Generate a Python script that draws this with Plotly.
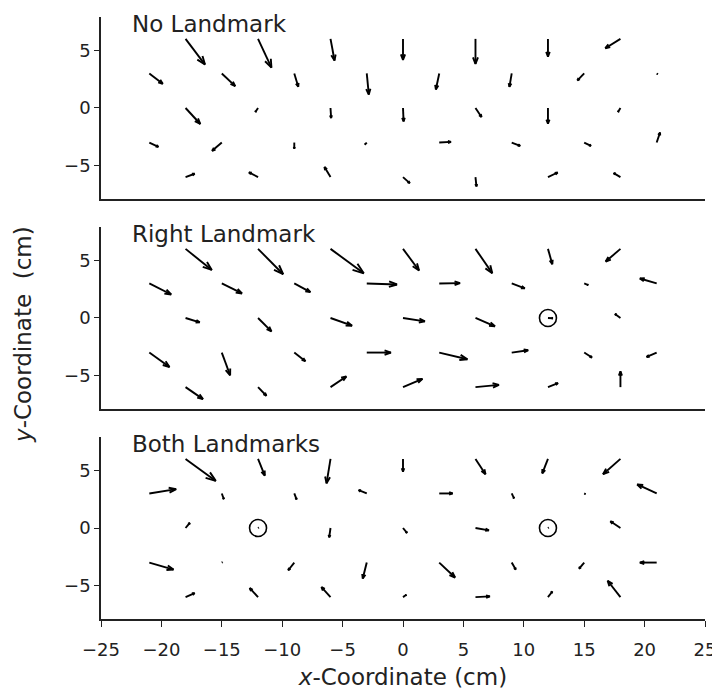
import math
import plotly.graph_objects as go
import plotly.figure_factory as ff
from plotly.subplots import make_subplots

# sampling grid (cm): rows at y = 6, 3, 0, -3, -6, alternate rows shifted by 3 cm
grid_x = [-18, -12, -6, 0, 6, 12, 18,
          -21, -15, -9, -3, 3, 9, 15, 21,
          -18, -12, -6, 0, 6, 12, 18,
          -21, -15, -9, -3, 3, 9, 15, 21,
          -18, -12, -6, 0, 6, 12, 18]
grid_y = [6, 6, 6, 6, 6, 6, 6,
          3, 3, 3, 3, 3, 3, 3, 3,
          0, 0, 0, 0, 0, 0, 0,
          -3, -3, -3, -3, -3, -3, -3, -3,
          -6, -6, -6, -6, -6, -6, -6]

# No Landmark
u_none = [1.61, 1.11, 0.33, 0.0, 0.0, 0.0, -1.25,
          1.11, 1.11, 0.33, 0.17, -0.28, -0.19, -0.56, 0.08,
          1.22, -0.22, 0.05, 0.05, 0.5, 0.0, -0.2,
          0.75, -0.8, 0.0, -0.15, 0.97, 0.7, 0.56, 0.28,
          0.75, -0.75, -0.5, 0.56, 0.08, 0.8, -0.56]
v_none = [-2.23, -2.49, -1.88, -1.83, -2.17, -1.54, -0.81,
          -0.9, -1.1, -1.16, -1.83, -1.39, -1.16, -0.61, -0.06,
          -1.39, -0.35, -0.87, -1.16, -0.78, -1.36, -0.35,
          -0.38, -0.72, -0.52, -0.17, 0.06, -0.29, -0.29, 0.87,
          0.29, 0.41, 0.87, -0.52, -0.81, 0.4, 0.35]

# Right Landmark
u_right = [2.17, 2.08, 2.75, 1.33, 1.39, 0.36, -1.22,
           1.81, 1.67, 1.33, 2.5, 1.72, 1.08, 0.33, -1.39,
           1.17, 1.11, 1.78, 1.81, 1.61, 0.4, -0.45,
           1.67, 0.69, 0.92, 2.0, 2.33, 1.36, 0.64, -0.83,
           1.44, 0.69, 1.31, 1.61, 1.94, 0.83, 0.0]
v_right = [-1.83, -2.2, -2.12, -1.88, -2.12, -1.33, -1.1,
           -0.96, -0.87, -0.75, -0.09, 0.03, -0.43, -0.14, 0.43,
           -0.38, -1.16, -0.67, -0.29, -0.72, -0.02, 0.35,
           -1.25, -1.97, -0.75, 0.0, -0.58, 0.2, -0.43, -0.38,
           -1.04, -0.75, 0.93, 0.72, 0.2, 0.35, 1.36]

# Both Landmarks
u_both = [2.5, 0.56, -0.33, 0.0, 0.83, -0.47, -1.44,
          2.22, 0.17, 0.19, -0.67, 1.11, 0.19, 0.1, -1.61,
          0.35, 0.05, -0.11, 0.33, 1.11, 0.05, -0.83,
          2.0, 0.05, -0.5, -0.33, 1.31, 0.33, -0.42, -1.39,
          0.75, -0.69, -0.75, 0.28, 1.19, 0.36, -1.06]
v_both = [-1.91, -1.45, -2.12, -1.1, -1.33, -1.25, -1.33,
          0.38, -0.49, -0.52, 0.29, 0.0, -0.43, -0.05, 0.78,
          0.45, 0.03, -0.81, -0.43, -0.2, 0.03, 0.58,
          -0.61, 0.03, -0.67, -1.39, -1.3, -0.61, -0.52, 0.0,
          0.35, 0.78, 0.87, 0.2, 0.06, 0.49, 1.42]

panel_titles = ["No Landmark", "Right Landmark", "Both Landmarks"]
landmarks_x = [[], [12], [-12, 12]]
landmarks_y = [[], [0], [0, 0]]
fields = [(u_none, v_none), (u_right, v_right), (u_both, v_both)]

FONT = "DejaVu Sans"
INK = "#222222"

fig = make_subplots(rows=3, cols=1, shared_xaxes=True)

for i, (u, v) in enumerate(fields):
    q = ff.create_quiver(grid_x, grid_y, u, v, scale=1, arrow_scale=0.28,
                         angle=math.pi / 9,
                         line=dict(color="black", width=1.9))
    for tr in q.data:
        tr.showlegend = False
        tr.hoverinfo = "skip"
        fig.add_trace(tr, row=i + 1, col=1)
    if landmarks_x[i]:
        fig.add_trace(go.Scatter(x=landmarks_x[i], y=landmarks_y[i], mode="markers",
                                 marker=dict(symbol="circle-open", size=17,
                                             color="black", line=dict(width=1.6)),
                                 showlegend=False),
                      row=i + 1, col=1)

domains = [[0.6977, 1.0], [0.3488, 0.6512], [0.0, 0.3023]]
for i in range(3):
    n = "" if i == 0 else str(i + 1)
    fig.layout["yaxis" + n].update(
        domain=domains[i], range=[-7.9, 7.9], tickvals=[-5, 0, 5],
        ticks="outside", ticklen=5, tickcolor=INK, showline=True,
        linecolor=INK, linewidth=1.5, showgrid=False, zeroline=False,
        automargin=False, tickfont=dict(family=FONT, size=18, color=INK))
    fig.layout["xaxis" + n].update(
        range=[-25, 25], showline=True, linecolor=INK, linewidth=1.5,
        showgrid=False, zeroline=False, showticklabels=(i == 2),
        ticks="outside" if i == 2 else "", ticklen=6, tickcolor=INK,
        dtick=5, tick0=-25, automargin=False,
        tickfont=dict(family=FONT, size=18, color=INK))
    fig.add_annotation(text=panel_titles[i], xref="x" + n + " domain",
                       yref="y" + n + " domain", x=0.048, y=0.963,
                       xanchor="left", yanchor="middle", showarrow=False,
                       font=dict(family=FONT, size=23, color=INK))

fig.layout.xaxis3.ticklabelstandoff = 8
fig.layout.xaxis3.title = dict(text="<i>x</i>-Coordinate (cm)", standoff=10,
                               font=dict(family=FONT, size=23, color=INK))
fig.add_annotation(text="<i>y</i>-Coordinate  (cm)", textangle=-90,
                   xref="paper", yref="paper", x=-0.128, y=0.473,
                   xanchor="center", yanchor="middle", showarrow=False,
                   font=dict(family=FONT, size=23, color=INK))

# page body adds an 8px offset, so margins are shifted to compensate
fig.update_layout(width=720, height=695, plot_bgcolor="white",
                  paper_bgcolor="white", showlegend=False,
                  margin=dict(l=93, r=23, t=9, b=84))

fig.write_html("out.html")
